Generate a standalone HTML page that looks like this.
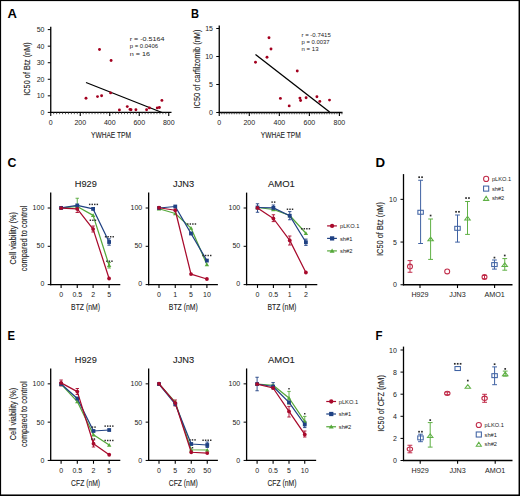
<!DOCTYPE html>
<html><head><meta charset="utf-8"><style>
html,body{margin:0;padding:0;background:#fff;width:520px;height:496px;overflow:hidden}
svg{display:block}
body{font-family:"Liberation Sans", sans-serif}
</style></head><body>
<svg width="520" height="496" viewBox="0 0 520 496" font-family="'Liberation Sans', sans-serif">
<rect x="0" y="0" width="520" height="496" fill="#fff"/>
<text x="7.50" y="17.90" font-size="12.5" fill="#000" text-anchor="start" font-weight="bold" textLength="9.4" lengthAdjust="spacingAndGlyphs">A</text>
<text x="191.00" y="17.90" font-size="12.5" fill="#000" text-anchor="start" font-weight="bold" textLength="8.0" lengthAdjust="spacingAndGlyphs">B</text>
<text x="7.50" y="167.20" font-size="12.5" fill="#000" text-anchor="start" font-weight="bold" textLength="8.9" lengthAdjust="spacingAndGlyphs">C</text>
<text x="375.40" y="167.10" font-size="12.5" fill="#000" text-anchor="start" font-weight="bold" textLength="9.6" lengthAdjust="spacingAndGlyphs">D</text>
<text x="7.60" y="339.60" font-size="12.5" fill="#000" text-anchor="start" font-weight="bold" textLength="7.5" lengthAdjust="spacingAndGlyphs">E</text>
<text x="375.40" y="339.60" font-size="12.5" fill="#000" text-anchor="start" font-weight="bold" textLength="7.0" lengthAdjust="spacingAndGlyphs">F</text>
<line x1="50.75" y1="26.80" x2="50.75" y2="113.00" stroke="#000" stroke-width="1.3"/>
<line x1="50.15" y1="112.40" x2="171.50" y2="112.40" stroke="#000" stroke-width="1.3"/>
<line x1="47.75" y1="112.40" x2="50.75" y2="112.40" stroke="#000" stroke-width="1"/>
<text x="44.50" y="114.91" font-size="7" fill="#222" text-anchor="end">0</text>
<line x1="47.75" y1="95.84" x2="50.75" y2="95.84" stroke="#000" stroke-width="1"/>
<text x="44.50" y="98.35" font-size="7" fill="#222" text-anchor="end">10</text>
<line x1="47.75" y1="79.28" x2="50.75" y2="79.28" stroke="#000" stroke-width="1"/>
<text x="44.50" y="81.79" font-size="7" fill="#222" text-anchor="end">20</text>
<line x1="47.75" y1="62.72" x2="50.75" y2="62.72" stroke="#000" stroke-width="1"/>
<text x="44.50" y="65.23" font-size="7" fill="#222" text-anchor="end">30</text>
<line x1="47.75" y1="46.16" x2="50.75" y2="46.16" stroke="#000" stroke-width="1"/>
<text x="44.50" y="48.67" font-size="7" fill="#222" text-anchor="end">40</text>
<line x1="47.75" y1="29.60" x2="50.75" y2="29.60" stroke="#000" stroke-width="1"/>
<text x="44.50" y="32.11" font-size="7" fill="#222" text-anchor="end">50</text>
<line x1="50.75" y1="112.40" x2="50.75" y2="116.00" stroke="#000" stroke-width="1.1"/>
<line x1="53.70" y1="112.40" x2="53.70" y2="114.20" stroke="#333" stroke-width="0.8"/>
<line x1="56.65" y1="112.40" x2="56.65" y2="114.20" stroke="#333" stroke-width="0.8"/>
<line x1="59.60" y1="112.40" x2="59.60" y2="114.20" stroke="#333" stroke-width="0.8"/>
<line x1="62.55" y1="112.40" x2="62.55" y2="114.20" stroke="#333" stroke-width="0.8"/>
<line x1="65.50" y1="112.40" x2="65.50" y2="114.20" stroke="#333" stroke-width="0.8"/>
<line x1="68.45" y1="112.40" x2="68.45" y2="114.20" stroke="#333" stroke-width="0.8"/>
<line x1="71.40" y1="112.40" x2="71.40" y2="114.20" stroke="#333" stroke-width="0.8"/>
<line x1="74.35" y1="112.40" x2="74.35" y2="114.20" stroke="#333" stroke-width="0.8"/>
<line x1="77.30" y1="112.40" x2="77.30" y2="114.20" stroke="#333" stroke-width="0.8"/>
<line x1="80.25" y1="112.40" x2="80.25" y2="116.00" stroke="#000" stroke-width="1.1"/>
<line x1="83.20" y1="112.40" x2="83.20" y2="114.20" stroke="#333" stroke-width="0.8"/>
<line x1="86.15" y1="112.40" x2="86.15" y2="114.20" stroke="#333" stroke-width="0.8"/>
<line x1="89.10" y1="112.40" x2="89.10" y2="114.20" stroke="#333" stroke-width="0.8"/>
<line x1="92.05" y1="112.40" x2="92.05" y2="114.20" stroke="#333" stroke-width="0.8"/>
<line x1="95.00" y1="112.40" x2="95.00" y2="114.20" stroke="#333" stroke-width="0.8"/>
<line x1="97.95" y1="112.40" x2="97.95" y2="114.20" stroke="#333" stroke-width="0.8"/>
<line x1="100.90" y1="112.40" x2="100.90" y2="114.20" stroke="#333" stroke-width="0.8"/>
<line x1="103.85" y1="112.40" x2="103.85" y2="114.20" stroke="#333" stroke-width="0.8"/>
<line x1="106.80" y1="112.40" x2="106.80" y2="114.20" stroke="#333" stroke-width="0.8"/>
<line x1="109.75" y1="112.40" x2="109.75" y2="116.00" stroke="#000" stroke-width="1.1"/>
<line x1="112.70" y1="112.40" x2="112.70" y2="114.20" stroke="#333" stroke-width="0.8"/>
<line x1="115.65" y1="112.40" x2="115.65" y2="114.20" stroke="#333" stroke-width="0.8"/>
<line x1="118.60" y1="112.40" x2="118.60" y2="114.20" stroke="#333" stroke-width="0.8"/>
<line x1="121.55" y1="112.40" x2="121.55" y2="114.20" stroke="#333" stroke-width="0.8"/>
<line x1="124.50" y1="112.40" x2="124.50" y2="114.20" stroke="#333" stroke-width="0.8"/>
<line x1="127.45" y1="112.40" x2="127.45" y2="114.20" stroke="#333" stroke-width="0.8"/>
<line x1="130.40" y1="112.40" x2="130.40" y2="114.20" stroke="#333" stroke-width="0.8"/>
<line x1="133.35" y1="112.40" x2="133.35" y2="114.20" stroke="#333" stroke-width="0.8"/>
<line x1="136.30" y1="112.40" x2="136.30" y2="114.20" stroke="#333" stroke-width="0.8"/>
<line x1="139.25" y1="112.40" x2="139.25" y2="116.00" stroke="#000" stroke-width="1.1"/>
<line x1="142.20" y1="112.40" x2="142.20" y2="114.20" stroke="#333" stroke-width="0.8"/>
<line x1="145.15" y1="112.40" x2="145.15" y2="114.20" stroke="#333" stroke-width="0.8"/>
<line x1="148.10" y1="112.40" x2="148.10" y2="114.20" stroke="#333" stroke-width="0.8"/>
<line x1="151.05" y1="112.40" x2="151.05" y2="114.20" stroke="#333" stroke-width="0.8"/>
<line x1="154.00" y1="112.40" x2="154.00" y2="114.20" stroke="#333" stroke-width="0.8"/>
<line x1="156.95" y1="112.40" x2="156.95" y2="114.20" stroke="#333" stroke-width="0.8"/>
<line x1="159.90" y1="112.40" x2="159.90" y2="114.20" stroke="#333" stroke-width="0.8"/>
<line x1="162.85" y1="112.40" x2="162.85" y2="114.20" stroke="#333" stroke-width="0.8"/>
<line x1="165.80" y1="112.40" x2="165.80" y2="114.20" stroke="#333" stroke-width="0.8"/>
<line x1="168.75" y1="112.40" x2="168.75" y2="116.00" stroke="#000" stroke-width="1.1"/>
<text x="50.75" y="124.91" font-size="7" fill="#222" text-anchor="middle">0</text>
<text x="80.25" y="124.91" font-size="7" fill="#222" text-anchor="middle">200</text>
<text x="109.75" y="124.91" font-size="7" fill="#222" text-anchor="middle">400</text>
<text x="139.25" y="124.91" font-size="7" fill="#222" text-anchor="middle">600</text>
<text x="168.75" y="124.91" font-size="7" fill="#222" text-anchor="middle">800</text>
<text x="111.00" y="137.60" font-size="9.4" fill="#222" text-anchor="middle" stroke="#222" stroke-width="0.1" textLength="40" lengthAdjust="spacingAndGlyphs">YWHAE TPM</text>
<text transform="translate(30.40,69.00) rotate(-90)" font-size="9.6" fill="#222" text-anchor="middle" stroke="#222" stroke-width="0.1" textLength="53.5" lengthAdjust="spacingAndGlyphs">IC50 of Btz (nM)</text>
<line x1="86.00" y1="82.50" x2="162.00" y2="112.50" stroke="#000" stroke-width="1.3"/>
<circle cx="86" cy="98.25" r="1.45" fill="#a3001f"/>
<circle cx="97.5" cy="96.6" r="1.45" fill="#a3001f"/>
<circle cx="101.6" cy="95.75" r="1.45" fill="#a3001f"/>
<circle cx="110.6" cy="92.9" r="1.45" fill="#a3001f"/>
<circle cx="99.5" cy="49.5" r="1.45" fill="#a3001f"/>
<circle cx="111.1" cy="60.5" r="1.45" fill="#a3001f"/>
<circle cx="119.4" cy="110" r="1.45" fill="#a3001f"/>
<circle cx="127.25" cy="106.6" r="1.45" fill="#a3001f"/>
<circle cx="130" cy="109.4" r="1.45" fill="#a3001f"/>
<circle cx="131" cy="109.75" r="1.45" fill="#a3001f"/>
<circle cx="135.9" cy="109.75" r="1.45" fill="#a3001f"/>
<circle cx="146.6" cy="109.75" r="1.45" fill="#a3001f"/>
<circle cx="149.4" cy="107.9" r="1.45" fill="#a3001f"/>
<circle cx="157.25" cy="107.9" r="1.45" fill="#a3001f"/>
<circle cx="159.4" cy="107.5" r="1.45" fill="#a3001f"/>
<circle cx="161.9" cy="100.4" r="1.45" fill="#a3001f"/>
<text x="129.75" y="40.60" font-size="6.2" fill="#222" text-anchor="start" textLength="34.6" lengthAdjust="spacingAndGlyphs">r = -0.5164</text>
<text x="129.75" y="48.00" font-size="5.2" fill="#222" text-anchor="start" textLength="28.3" lengthAdjust="spacingAndGlyphs">p = 0.0406</text>
<text x="129.75" y="55.60" font-size="6.2" fill="#222" text-anchor="start" textLength="20.3" lengthAdjust="spacingAndGlyphs">n = 16</text>
<line x1="219.25" y1="25.50" x2="219.25" y2="113.10" stroke="#000" stroke-width="1.3"/>
<line x1="218.65" y1="112.50" x2="342.50" y2="112.50" stroke="#000" stroke-width="1.3"/>
<line x1="216.25" y1="112.50" x2="219.25" y2="112.50" stroke="#000" stroke-width="1"/>
<text x="213.00" y="115.01" font-size="7" fill="#222" text-anchor="end">0</text>
<line x1="216.25" y1="84.50" x2="219.25" y2="84.50" stroke="#000" stroke-width="1"/>
<text x="213.00" y="87.01" font-size="7" fill="#222" text-anchor="end">5</text>
<line x1="216.25" y1="56.50" x2="219.25" y2="56.50" stroke="#000" stroke-width="1"/>
<text x="213.00" y="59.01" font-size="7" fill="#222" text-anchor="end">10</text>
<line x1="216.25" y1="28.50" x2="219.25" y2="28.50" stroke="#000" stroke-width="1"/>
<text x="213.00" y="31.01" font-size="7" fill="#222" text-anchor="end">15</text>
<line x1="219.25" y1="112.50" x2="219.25" y2="116.10" stroke="#000" stroke-width="1.1"/>
<line x1="221.75" y1="112.50" x2="221.75" y2="114.30" stroke="#333" stroke-width="0.8"/>
<line x1="224.26" y1="112.50" x2="224.26" y2="114.30" stroke="#333" stroke-width="0.8"/>
<line x1="226.76" y1="112.50" x2="226.76" y2="114.30" stroke="#333" stroke-width="0.8"/>
<line x1="229.26" y1="112.50" x2="229.26" y2="114.30" stroke="#333" stroke-width="0.8"/>
<line x1="231.77" y1="112.50" x2="231.77" y2="114.30" stroke="#333" stroke-width="0.8"/>
<line x1="234.27" y1="112.50" x2="234.27" y2="114.30" stroke="#333" stroke-width="0.8"/>
<line x1="236.77" y1="112.50" x2="236.77" y2="114.30" stroke="#333" stroke-width="0.8"/>
<line x1="239.28" y1="112.50" x2="239.28" y2="114.30" stroke="#333" stroke-width="0.8"/>
<line x1="241.78" y1="112.50" x2="241.78" y2="114.30" stroke="#333" stroke-width="0.8"/>
<line x1="244.28" y1="112.50" x2="244.28" y2="114.30" stroke="#333" stroke-width="0.8"/>
<line x1="246.79" y1="112.50" x2="246.79" y2="114.30" stroke="#333" stroke-width="0.8"/>
<line x1="249.29" y1="112.50" x2="249.29" y2="116.10" stroke="#000" stroke-width="1.1"/>
<line x1="251.79" y1="112.50" x2="251.79" y2="114.30" stroke="#333" stroke-width="0.8"/>
<line x1="254.30" y1="112.50" x2="254.30" y2="114.30" stroke="#333" stroke-width="0.8"/>
<line x1="256.80" y1="112.50" x2="256.80" y2="114.30" stroke="#333" stroke-width="0.8"/>
<line x1="259.30" y1="112.50" x2="259.30" y2="114.30" stroke="#333" stroke-width="0.8"/>
<line x1="261.81" y1="112.50" x2="261.81" y2="114.30" stroke="#333" stroke-width="0.8"/>
<line x1="264.31" y1="112.50" x2="264.31" y2="114.30" stroke="#333" stroke-width="0.8"/>
<line x1="266.81" y1="112.50" x2="266.81" y2="114.30" stroke="#333" stroke-width="0.8"/>
<line x1="269.32" y1="112.50" x2="269.32" y2="114.30" stroke="#333" stroke-width="0.8"/>
<line x1="271.82" y1="112.50" x2="271.82" y2="114.30" stroke="#333" stroke-width="0.8"/>
<line x1="274.32" y1="112.50" x2="274.32" y2="114.30" stroke="#333" stroke-width="0.8"/>
<line x1="276.83" y1="112.50" x2="276.83" y2="114.30" stroke="#333" stroke-width="0.8"/>
<line x1="279.33" y1="112.50" x2="279.33" y2="116.10" stroke="#000" stroke-width="1.1"/>
<line x1="281.83" y1="112.50" x2="281.83" y2="114.30" stroke="#333" stroke-width="0.8"/>
<line x1="284.34" y1="112.50" x2="284.34" y2="114.30" stroke="#333" stroke-width="0.8"/>
<line x1="286.84" y1="112.50" x2="286.84" y2="114.30" stroke="#333" stroke-width="0.8"/>
<line x1="289.34" y1="112.50" x2="289.34" y2="114.30" stroke="#333" stroke-width="0.8"/>
<line x1="291.85" y1="112.50" x2="291.85" y2="114.30" stroke="#333" stroke-width="0.8"/>
<line x1="294.35" y1="112.50" x2="294.35" y2="114.30" stroke="#333" stroke-width="0.8"/>
<line x1="296.85" y1="112.50" x2="296.85" y2="114.30" stroke="#333" stroke-width="0.8"/>
<line x1="299.36" y1="112.50" x2="299.36" y2="114.30" stroke="#333" stroke-width="0.8"/>
<line x1="301.86" y1="112.50" x2="301.86" y2="114.30" stroke="#333" stroke-width="0.8"/>
<line x1="304.36" y1="112.50" x2="304.36" y2="114.30" stroke="#333" stroke-width="0.8"/>
<line x1="306.87" y1="112.50" x2="306.87" y2="114.30" stroke="#333" stroke-width="0.8"/>
<line x1="309.37" y1="112.50" x2="309.37" y2="116.10" stroke="#000" stroke-width="1.1"/>
<line x1="311.87" y1="112.50" x2="311.87" y2="114.30" stroke="#333" stroke-width="0.8"/>
<line x1="314.38" y1="112.50" x2="314.38" y2="114.30" stroke="#333" stroke-width="0.8"/>
<line x1="316.88" y1="112.50" x2="316.88" y2="114.30" stroke="#333" stroke-width="0.8"/>
<line x1="319.38" y1="112.50" x2="319.38" y2="114.30" stroke="#333" stroke-width="0.8"/>
<line x1="321.89" y1="112.50" x2="321.89" y2="114.30" stroke="#333" stroke-width="0.8"/>
<line x1="324.39" y1="112.50" x2="324.39" y2="114.30" stroke="#333" stroke-width="0.8"/>
<line x1="326.89" y1="112.50" x2="326.89" y2="114.30" stroke="#333" stroke-width="0.8"/>
<line x1="329.40" y1="112.50" x2="329.40" y2="114.30" stroke="#333" stroke-width="0.8"/>
<line x1="331.90" y1="112.50" x2="331.90" y2="114.30" stroke="#333" stroke-width="0.8"/>
<line x1="334.40" y1="112.50" x2="334.40" y2="114.30" stroke="#333" stroke-width="0.8"/>
<line x1="336.91" y1="112.50" x2="336.91" y2="114.30" stroke="#333" stroke-width="0.8"/>
<line x1="339.41" y1="112.50" x2="339.41" y2="116.10" stroke="#000" stroke-width="1.1"/>
<line x1="341.91" y1="112.50" x2="341.91" y2="114.30" stroke="#333" stroke-width="0.8"/>
<text x="219.25" y="124.91" font-size="7" fill="#222" text-anchor="middle">0</text>
<text x="249.29" y="124.91" font-size="7" fill="#222" text-anchor="middle">200</text>
<text x="279.33" y="124.91" font-size="7" fill="#222" text-anchor="middle">400</text>
<text x="309.37" y="124.91" font-size="7" fill="#222" text-anchor="middle">600</text>
<text x="339.41" y="124.91" font-size="7" fill="#222" text-anchor="middle">800</text>
<text x="280.75" y="137.60" font-size="9.4" fill="#222" text-anchor="middle" stroke="#222" stroke-width="0.1" textLength="40" lengthAdjust="spacingAndGlyphs">YWHAE TPM</text>
<text transform="translate(199.80,69.00) rotate(-90)" font-size="9.6" fill="#222" text-anchor="middle" stroke="#222" stroke-width="0.1" textLength="79" lengthAdjust="spacingAndGlyphs">IC50 of carfilzomib (nM)</text>
<line x1="255.50" y1="54.50" x2="329.60" y2="112.00" stroke="#000" stroke-width="1.3"/>
<circle cx="255.5" cy="62.25" r="1.45" fill="#a3001f"/>
<circle cx="267" cy="57.25" r="1.45" fill="#a3001f"/>
<circle cx="269" cy="37.75" r="1.45" fill="#a3001f"/>
<circle cx="271" cy="49" r="1.45" fill="#a3001f"/>
<circle cx="297.25" cy="71" r="1.45" fill="#a3001f"/>
<circle cx="280.4" cy="98.4" r="1.45" fill="#a3001f"/>
<circle cx="289.2" cy="105.9" r="1.45" fill="#a3001f"/>
<circle cx="299.9" cy="98.1" r="1.45" fill="#a3001f"/>
<circle cx="300.6" cy="100.5" r="1.45" fill="#a3001f"/>
<circle cx="306.1" cy="97.8" r="1.45" fill="#a3001f"/>
<circle cx="316.9" cy="96.7" r="1.45" fill="#a3001f"/>
<circle cx="319.8" cy="101.4" r="1.45" fill="#a3001f"/>
<circle cx="329.5" cy="100.1" r="1.45" fill="#a3001f"/>
<text x="301.50" y="37.30" font-size="5.4" fill="#222" text-anchor="start" textLength="29.3" lengthAdjust="spacingAndGlyphs">r = -0.7415</text>
<text x="301.50" y="44.00" font-size="5.4" fill="#222" text-anchor="start" textLength="28" lengthAdjust="spacingAndGlyphs">p = 0.0037</text>
<text x="301.50" y="50.80" font-size="5.4" fill="#222" text-anchor="start" textLength="17" lengthAdjust="spacingAndGlyphs">n = 13</text>
<text x="85.80" y="186.80" font-size="9.5" fill="#222" text-anchor="middle" stroke="#222" stroke-width="0.1" textLength="22" lengthAdjust="spacingAndGlyphs">H929</text>
<line x1="50.70" y1="192.60" x2="50.70" y2="285.20" stroke="#000" stroke-width="1.3"/>
<line x1="50.10" y1="284.60" x2="120.30" y2="284.60" stroke="#000" stroke-width="1.3"/>
<line x1="47.70" y1="284.60" x2="50.70" y2="284.60" stroke="#000" stroke-width="1"/>
<text x="44.30" y="286.41" font-size="7" fill="#222" text-anchor="end">0</text>
<line x1="47.70" y1="246.30" x2="50.70" y2="246.30" stroke="#000" stroke-width="1"/>
<text x="44.30" y="248.11" font-size="7" fill="#222" text-anchor="end">50</text>
<line x1="47.70" y1="208.00" x2="50.70" y2="208.00" stroke="#000" stroke-width="1"/>
<text x="44.30" y="209.81" font-size="7" fill="#222" text-anchor="end">100</text>
<line x1="61.10" y1="284.60" x2="61.10" y2="287.90" stroke="#000" stroke-width="1.1"/>
<text x="61.10" y="296.91" font-size="7" fill="#222" text-anchor="middle">0</text>
<line x1="77.25" y1="284.60" x2="77.25" y2="287.90" stroke="#000" stroke-width="1.1"/>
<text x="77.25" y="296.91" font-size="7" fill="#222" text-anchor="middle">0.5</text>
<line x1="93.10" y1="284.60" x2="93.10" y2="287.90" stroke="#000" stroke-width="1.1"/>
<text x="93.10" y="296.91" font-size="7" fill="#222" text-anchor="middle">2</text>
<line x1="109.10" y1="284.60" x2="109.10" y2="287.90" stroke="#000" stroke-width="1.1"/>
<text x="109.10" y="296.91" font-size="7" fill="#222" text-anchor="middle">5</text>
<text x="85.60" y="310.30" font-size="9.5" fill="#222" text-anchor="middle" stroke="#222" stroke-width="0.1" textLength="29" lengthAdjust="spacingAndGlyphs">BTZ (nM)</text>
<line x1="77.25" y1="198.25" x2="77.25" y2="209.00" stroke="#55a83a" stroke-width="0.9"/>
<line x1="75.55" y1="198.25" x2="78.95" y2="198.25" stroke="#55a83a" stroke-width="0.9"/>
<line x1="75.55" y1="209.00" x2="78.95" y2="209.00" stroke="#55a83a" stroke-width="0.9"/>
<line x1="77.25" y1="205.50" x2="77.25" y2="212.50" stroke="#a80a2c" stroke-width="0.9"/>
<line x1="75.55" y1="205.50" x2="78.95" y2="205.50" stroke="#a80a2c" stroke-width="0.9"/>
<line x1="75.55" y1="212.50" x2="78.95" y2="212.50" stroke="#a80a2c" stroke-width="0.9"/>
<line x1="93.10" y1="226.00" x2="93.10" y2="232.00" stroke="#a80a2c" stroke-width="0.9"/>
<line x1="91.40" y1="226.00" x2="94.80" y2="226.00" stroke="#a80a2c" stroke-width="0.9"/>
<line x1="91.40" y1="232.00" x2="94.80" y2="232.00" stroke="#a80a2c" stroke-width="0.9"/>
<line x1="109.10" y1="238.80" x2="109.10" y2="245.20" stroke="#1f4183" stroke-width="0.9"/>
<line x1="107.40" y1="238.80" x2="110.80" y2="238.80" stroke="#1f4183" stroke-width="0.9"/>
<line x1="107.40" y1="245.20" x2="110.80" y2="245.20" stroke="#1f4183" stroke-width="0.9"/>
<line x1="109.10" y1="262.50" x2="109.10" y2="268.00" stroke="#55a83a" stroke-width="0.9"/>
<line x1="107.40" y1="262.50" x2="110.80" y2="262.50" stroke="#55a83a" stroke-width="0.9"/>
<line x1="107.40" y1="268.00" x2="110.80" y2="268.00" stroke="#55a83a" stroke-width="0.9"/>
<polyline points="61.10,207.90 77.25,206.50 93.10,215.40 109.10,265.40" fill="none" stroke="#55a83a" stroke-width="1.25" stroke-linejoin="round"/>
<polygon points="58.90,209.55 63.30,209.55 61.10,205.81" fill="#55a83a"/>
<polygon points="75.05,208.15 79.45,208.15 77.25,204.41" fill="#55a83a"/>
<polygon points="90.90,217.05 95.30,217.05 93.10,213.31" fill="#55a83a"/>
<polygon points="106.90,267.05 111.30,267.05 109.10,263.31" fill="#55a83a"/>
<polyline points="61.10,207.90 77.25,205.40 93.10,208.90 109.10,242.00" fill="none" stroke="#1f4183" stroke-width="1.25" stroke-linejoin="round"/>
<rect x="59.20" y="206.00" width="3.80" height="3.80" fill="#1f4183"/>
<rect x="75.35" y="203.50" width="3.80" height="3.80" fill="#1f4183"/>
<rect x="91.20" y="207.00" width="3.80" height="3.80" fill="#1f4183"/>
<rect x="107.20" y="240.10" width="3.80" height="3.80" fill="#1f4183"/>
<polyline points="61.10,208.10 77.25,208.90 93.10,229.10 109.10,278.50" fill="none" stroke="#a80a2c" stroke-width="1.25" stroke-linejoin="round"/>
<circle cx="61.10" cy="208.10" r="1.90" fill="#a80a2c"/>
<circle cx="77.25" cy="208.90" r="1.90" fill="#a80a2c"/>
<circle cx="93.10" cy="229.10" r="1.90" fill="#a80a2c"/>
<circle cx="109.10" cy="278.50" r="1.90" fill="#a80a2c"/>
<rect x="88.95" y="203.68" width="1.45" height="1.45" fill="#2a2a2a"/>
<rect x="91.50" y="203.68" width="1.45" height="1.45" fill="#2a2a2a"/>
<rect x="94.05" y="203.68" width="1.45" height="1.45" fill="#2a2a2a"/>
<rect x="96.60" y="203.68" width="1.45" height="1.45" fill="#2a2a2a"/>
<rect x="89.63" y="219.53" width="1.45" height="1.45" fill="#2a2a2a"/>
<rect x="92.18" y="219.53" width="1.45" height="1.45" fill="#2a2a2a"/>
<rect x="94.73" y="219.53" width="1.45" height="1.45" fill="#2a2a2a"/>
<rect x="104.85" y="236.03" width="1.45" height="1.45" fill="#2a2a2a"/>
<rect x="107.40" y="236.03" width="1.45" height="1.45" fill="#2a2a2a"/>
<rect x="109.95" y="236.03" width="1.45" height="1.45" fill="#2a2a2a"/>
<rect x="112.50" y="236.03" width="1.45" height="1.45" fill="#2a2a2a"/>
<rect x="106.13" y="260.47" width="1.45" height="1.45" fill="#2a2a2a"/>
<rect x="108.68" y="260.47" width="1.45" height="1.45" fill="#2a2a2a"/>
<rect x="111.23" y="260.47" width="1.45" height="1.45" fill="#2a2a2a"/>
<text x="183.55" y="186.80" font-size="9.5" fill="#222" text-anchor="middle" stroke="#222" stroke-width="0.1" textLength="21.1" lengthAdjust="spacingAndGlyphs">JJN3</text>
<line x1="148.65" y1="192.60" x2="148.65" y2="285.20" stroke="#000" stroke-width="1.3"/>
<line x1="148.05" y1="284.60" x2="217.90" y2="284.60" stroke="#000" stroke-width="1.3"/>
<line x1="145.65" y1="284.60" x2="148.65" y2="284.60" stroke="#000" stroke-width="1"/>
<text x="142.25" y="286.41" font-size="7" fill="#222" text-anchor="end">0</text>
<line x1="145.65" y1="246.30" x2="148.65" y2="246.30" stroke="#000" stroke-width="1"/>
<text x="142.25" y="248.11" font-size="7" fill="#222" text-anchor="end">50</text>
<line x1="145.65" y1="208.00" x2="148.65" y2="208.00" stroke="#000" stroke-width="1"/>
<text x="142.25" y="209.81" font-size="7" fill="#222" text-anchor="end">100</text>
<line x1="159.00" y1="284.60" x2="159.00" y2="287.90" stroke="#000" stroke-width="1.1"/>
<text x="159.00" y="296.91" font-size="7" fill="#222" text-anchor="middle">0</text>
<line x1="175.25" y1="284.60" x2="175.25" y2="287.90" stroke="#000" stroke-width="1.1"/>
<text x="175.25" y="296.91" font-size="7" fill="#222" text-anchor="middle">1</text>
<line x1="191.00" y1="284.60" x2="191.00" y2="287.90" stroke="#000" stroke-width="1.1"/>
<text x="191.00" y="296.91" font-size="7" fill="#222" text-anchor="middle">5</text>
<line x1="206.90" y1="284.60" x2="206.90" y2="287.90" stroke="#000" stroke-width="1.1"/>
<text x="206.90" y="296.91" font-size="7" fill="#222" text-anchor="middle">10</text>
<text x="183.30" y="310.30" font-size="9.5" fill="#222" text-anchor="middle" stroke="#222" stroke-width="0.1" textLength="29" lengthAdjust="spacingAndGlyphs">BTZ (nM)</text>
<polyline points="159.00,208.75 175.25,213.50 191.00,228.10 206.90,264.50" fill="none" stroke="#55a83a" stroke-width="1.25" stroke-linejoin="round"/>
<polygon points="156.80,210.40 161.20,210.40 159.00,206.66" fill="#55a83a"/>
<polygon points="173.05,215.15 177.45,215.15 175.25,211.41" fill="#55a83a"/>
<polygon points="188.80,229.75 193.20,229.75 191.00,226.01" fill="#55a83a"/>
<polygon points="204.70,266.15 209.10,266.15 206.90,262.41" fill="#55a83a"/>
<polyline points="159.00,208.00 175.25,206.50 191.00,233.50 206.90,260.60" fill="none" stroke="#1f4183" stroke-width="1.25" stroke-linejoin="round"/>
<rect x="157.10" y="206.10" width="3.80" height="3.80" fill="#1f4183"/>
<rect x="173.35" y="204.60" width="3.80" height="3.80" fill="#1f4183"/>
<rect x="189.10" y="231.60" width="3.80" height="3.80" fill="#1f4183"/>
<rect x="205.00" y="258.70" width="3.80" height="3.80" fill="#1f4183"/>
<polyline points="159.00,207.75 175.25,210.25 191.00,274.10 206.90,279.00" fill="none" stroke="#a80a2c" stroke-width="1.25" stroke-linejoin="round"/>
<circle cx="159.00" cy="207.75" r="1.90" fill="#a80a2c"/>
<circle cx="175.25" cy="210.25" r="1.90" fill="#a80a2c"/>
<circle cx="191.00" cy="274.10" r="1.90" fill="#a80a2c"/>
<circle cx="206.90" cy="279.00" r="1.90" fill="#a80a2c"/>
<rect x="187.05" y="223.28" width="1.45" height="1.45" fill="#2a2a2a"/>
<rect x="189.60" y="223.28" width="1.45" height="1.45" fill="#2a2a2a"/>
<rect x="192.15" y="223.28" width="1.45" height="1.45" fill="#2a2a2a"/>
<rect x="194.70" y="223.28" width="1.45" height="1.45" fill="#2a2a2a"/>
<rect x="202.35" y="254.78" width="1.45" height="1.45" fill="#2a2a2a"/>
<rect x="204.90" y="254.78" width="1.45" height="1.45" fill="#2a2a2a"/>
<rect x="207.45" y="254.78" width="1.45" height="1.45" fill="#2a2a2a"/>
<rect x="210.00" y="254.78" width="1.45" height="1.45" fill="#2a2a2a"/>
<text x="281.45" y="186.80" font-size="9.5" fill="#222" text-anchor="middle" stroke="#222" stroke-width="0.1" textLength="26.9" lengthAdjust="spacingAndGlyphs">AMO1</text>
<line x1="246.60" y1="192.60" x2="246.60" y2="285.20" stroke="#000" stroke-width="1.3"/>
<line x1="246.00" y1="284.60" x2="317.30" y2="284.60" stroke="#000" stroke-width="1.3"/>
<line x1="243.60" y1="284.60" x2="246.60" y2="284.60" stroke="#000" stroke-width="1"/>
<text x="240.20" y="286.41" font-size="7" fill="#222" text-anchor="end">0</text>
<line x1="243.60" y1="246.30" x2="246.60" y2="246.30" stroke="#000" stroke-width="1"/>
<text x="240.20" y="248.11" font-size="7" fill="#222" text-anchor="end">50</text>
<line x1="243.60" y1="208.00" x2="246.60" y2="208.00" stroke="#000" stroke-width="1"/>
<text x="240.20" y="209.81" font-size="7" fill="#222" text-anchor="end">100</text>
<line x1="257.50" y1="284.60" x2="257.50" y2="287.90" stroke="#000" stroke-width="1.1"/>
<text x="257.50" y="296.91" font-size="7" fill="#222" text-anchor="middle">0</text>
<line x1="273.40" y1="284.60" x2="273.40" y2="287.90" stroke="#000" stroke-width="1.1"/>
<text x="273.40" y="296.91" font-size="7" fill="#222" text-anchor="middle">0.5</text>
<line x1="289.75" y1="284.60" x2="289.75" y2="287.90" stroke="#000" stroke-width="1.1"/>
<text x="289.75" y="296.91" font-size="7" fill="#222" text-anchor="middle">1</text>
<line x1="305.90" y1="284.60" x2="305.90" y2="287.90" stroke="#000" stroke-width="1.1"/>
<text x="305.90" y="296.91" font-size="7" fill="#222" text-anchor="middle">2</text>
<text x="281.90" y="310.30" font-size="9.5" fill="#222" text-anchor="middle" stroke="#222" stroke-width="0.1" textLength="29" lengthAdjust="spacingAndGlyphs">BTZ (nM)</text>
<line x1="257.50" y1="203.75" x2="257.50" y2="212.25" stroke="#1f4183" stroke-width="0.9"/>
<line x1="255.80" y1="203.75" x2="259.20" y2="203.75" stroke="#1f4183" stroke-width="0.9"/>
<line x1="255.80" y1="212.25" x2="259.20" y2="212.25" stroke="#1f4183" stroke-width="0.9"/>
<line x1="273.40" y1="205.00" x2="273.40" y2="210.40" stroke="#1f4183" stroke-width="0.9"/>
<line x1="271.70" y1="205.00" x2="275.10" y2="205.00" stroke="#1f4183" stroke-width="0.9"/>
<line x1="271.70" y1="210.40" x2="275.10" y2="210.40" stroke="#1f4183" stroke-width="0.9"/>
<line x1="273.40" y1="214.75" x2="273.40" y2="221.60" stroke="#a80a2c" stroke-width="0.9"/>
<line x1="271.70" y1="214.75" x2="275.10" y2="214.75" stroke="#a80a2c" stroke-width="0.9"/>
<line x1="271.70" y1="221.60" x2="275.10" y2="221.60" stroke="#a80a2c" stroke-width="0.9"/>
<line x1="289.75" y1="211.60" x2="289.75" y2="219.75" stroke="#1f4183" stroke-width="0.9"/>
<line x1="288.05" y1="211.60" x2="291.45" y2="211.60" stroke="#1f4183" stroke-width="0.9"/>
<line x1="288.05" y1="219.75" x2="291.45" y2="219.75" stroke="#1f4183" stroke-width="0.9"/>
<line x1="289.75" y1="236.00" x2="289.75" y2="245.00" stroke="#a80a2c" stroke-width="0.9"/>
<line x1="288.05" y1="236.00" x2="291.45" y2="236.00" stroke="#a80a2c" stroke-width="0.9"/>
<line x1="288.05" y1="245.00" x2="291.45" y2="245.00" stroke="#a80a2c" stroke-width="0.9"/>
<line x1="305.90" y1="239.10" x2="305.90" y2="245.40" stroke="#1f4183" stroke-width="0.9"/>
<line x1="304.20" y1="239.10" x2="307.60" y2="239.10" stroke="#1f4183" stroke-width="0.9"/>
<line x1="304.20" y1="245.40" x2="307.60" y2="245.40" stroke="#1f4183" stroke-width="0.9"/>
<polyline points="257.50,207.50 273.40,209.50 289.75,215.50 305.90,233.25" fill="none" stroke="#55a83a" stroke-width="1.25" stroke-linejoin="round"/>
<polygon points="255.30,209.15 259.70,209.15 257.50,205.41" fill="#55a83a"/>
<polygon points="271.20,211.15 275.60,211.15 273.40,207.41" fill="#55a83a"/>
<polygon points="287.55,217.15 291.95,217.15 289.75,213.41" fill="#55a83a"/>
<polygon points="303.70,234.90 308.10,234.90 305.90,231.16" fill="#55a83a"/>
<polyline points="257.50,207.50 273.40,207.90 289.75,215.75 305.90,242.25" fill="none" stroke="#1f4183" stroke-width="1.25" stroke-linejoin="round"/>
<rect x="255.60" y="205.60" width="3.80" height="3.80" fill="#1f4183"/>
<rect x="271.50" y="206.00" width="3.80" height="3.80" fill="#1f4183"/>
<rect x="287.85" y="213.85" width="3.80" height="3.80" fill="#1f4183"/>
<rect x="304.00" y="240.35" width="3.80" height="3.80" fill="#1f4183"/>
<polyline points="257.50,207.90 273.40,218.50 289.75,240.40 305.90,272.50" fill="none" stroke="#a80a2c" stroke-width="1.25" stroke-linejoin="round"/>
<circle cx="257.50" cy="207.90" r="1.90" fill="#a80a2c"/>
<circle cx="273.40" cy="218.50" r="1.90" fill="#a80a2c"/>
<circle cx="289.75" cy="240.40" r="1.90" fill="#a80a2c"/>
<circle cx="305.90" cy="272.50" r="1.90" fill="#a80a2c"/>
<rect x="271.40" y="201.38" width="1.45" height="1.45" fill="#2a2a2a"/>
<rect x="273.95" y="201.38" width="1.45" height="1.45" fill="#2a2a2a"/>
<rect x="286.72" y="208.53" width="1.45" height="1.45" fill="#2a2a2a"/>
<rect x="289.27" y="208.53" width="1.45" height="1.45" fill="#2a2a2a"/>
<rect x="291.82" y="208.53" width="1.45" height="1.45" fill="#2a2a2a"/>
<rect x="301.05" y="228.03" width="1.45" height="1.45" fill="#2a2a2a"/>
<rect x="303.60" y="228.03" width="1.45" height="1.45" fill="#2a2a2a"/>
<rect x="306.15" y="228.03" width="1.45" height="1.45" fill="#2a2a2a"/>
<rect x="308.70" y="228.03" width="1.45" height="1.45" fill="#2a2a2a"/>
<line x1="327.10" y1="225.90" x2="336.90" y2="225.90" stroke="#a80a2c" stroke-width="1.2"/>
<circle cx="332.10" cy="225.90" r="2.13" fill="#a80a2c"/>
<text x="340.00" y="228.05" font-size="6.0" fill="#222" text-anchor="start" textLength="19.4" lengthAdjust="spacingAndGlyphs">pLKO.1</text>
<line x1="327.10" y1="238.40" x2="336.90" y2="238.40" stroke="#1f4183" stroke-width="1.2"/>
<rect x="329.97" y="236.27" width="4.26" height="4.26" fill="#1f4183"/>
<text x="340.00" y="240.55" font-size="6.0" fill="#222" text-anchor="start" textLength="12.3" lengthAdjust="spacingAndGlyphs">sh#1</text>
<line x1="327.10" y1="250.90" x2="336.90" y2="250.90" stroke="#55a83a" stroke-width="1.2"/>
<polygon points="329.64,252.75 334.56,252.75 332.10,248.56" fill="#55a83a"/>
<text x="340.00" y="253.05" font-size="6.0" fill="#222" text-anchor="start" textLength="12.5" lengthAdjust="spacingAndGlyphs">sh#2</text>
<text transform="translate(16.40,238.30) rotate(-90)" font-size="9.6" fill="#222" text-anchor="middle" stroke="#222" stroke-width="0.1" textLength="52.5" lengthAdjust="spacingAndGlyphs">Cell viability (%)</text>
<text transform="translate(26.90,238.50) rotate(-90)" font-size="9.6" fill="#222" text-anchor="middle" stroke="#222" stroke-width="0.1" textLength="65.5" lengthAdjust="spacingAndGlyphs">compared to control</text>
<text transform="translate(16.40,414.00) rotate(-90)" font-size="9.6" fill="#222" text-anchor="middle" stroke="#222" stroke-width="0.1" textLength="52.5" lengthAdjust="spacingAndGlyphs">Cell viability (%)</text>
<text transform="translate(26.90,414.20) rotate(-90)" font-size="9.6" fill="#222" text-anchor="middle" stroke="#222" stroke-width="0.1" textLength="65.5" lengthAdjust="spacingAndGlyphs">compared to control</text>
<text x="85.80" y="363.15" font-size="9.5" fill="#222" text-anchor="middle" stroke="#222" stroke-width="0.1" textLength="22" lengthAdjust="spacingAndGlyphs">H929</text>
<line x1="50.70" y1="368.45" x2="50.70" y2="461.05" stroke="#000" stroke-width="1.3"/>
<line x1="50.10" y1="460.45" x2="120.30" y2="460.45" stroke="#000" stroke-width="1.3"/>
<line x1="47.70" y1="460.45" x2="50.70" y2="460.45" stroke="#000" stroke-width="1"/>
<text x="44.30" y="462.86" font-size="7" fill="#222" text-anchor="end">0</text>
<line x1="47.70" y1="422.15" x2="50.70" y2="422.15" stroke="#000" stroke-width="1"/>
<text x="44.30" y="424.56" font-size="7" fill="#222" text-anchor="end">50</text>
<line x1="47.70" y1="383.85" x2="50.70" y2="383.85" stroke="#000" stroke-width="1"/>
<text x="44.30" y="386.26" font-size="7" fill="#222" text-anchor="end">100</text>
<line x1="61.10" y1="460.45" x2="61.10" y2="463.75" stroke="#000" stroke-width="1.1"/>
<text x="61.10" y="472.76" font-size="7" fill="#222" text-anchor="middle">0</text>
<line x1="77.30" y1="460.45" x2="77.30" y2="463.75" stroke="#000" stroke-width="1.1"/>
<text x="77.30" y="472.76" font-size="7" fill="#222" text-anchor="middle">0.5</text>
<line x1="93.50" y1="460.45" x2="93.50" y2="463.75" stroke="#000" stroke-width="1.1"/>
<text x="93.50" y="472.76" font-size="7" fill="#222" text-anchor="middle">2</text>
<line x1="109.20" y1="460.45" x2="109.20" y2="463.75" stroke="#000" stroke-width="1.1"/>
<text x="109.20" y="472.76" font-size="7" fill="#222" text-anchor="middle">5</text>
<text x="85.60" y="486.45" font-size="9.5" fill="#222" text-anchor="middle" stroke="#222" stroke-width="0.1" textLength="29" lengthAdjust="spacingAndGlyphs">CFZ (nM)</text>
<line x1="61.10" y1="380.00" x2="61.10" y2="386.00" stroke="#a80a2c" stroke-width="0.9"/>
<line x1="59.40" y1="380.00" x2="62.80" y2="380.00" stroke="#a80a2c" stroke-width="0.9"/>
<line x1="59.40" y1="386.00" x2="62.80" y2="386.00" stroke="#a80a2c" stroke-width="0.9"/>
<line x1="77.30" y1="388.50" x2="77.30" y2="394.50" stroke="#a80a2c" stroke-width="0.9"/>
<line x1="75.60" y1="388.50" x2="79.00" y2="388.50" stroke="#a80a2c" stroke-width="0.9"/>
<line x1="75.60" y1="394.50" x2="79.00" y2="394.50" stroke="#a80a2c" stroke-width="0.9"/>
<line x1="93.50" y1="440.00" x2="93.50" y2="447.00" stroke="#a80a2c" stroke-width="0.9"/>
<line x1="91.80" y1="440.00" x2="95.20" y2="440.00" stroke="#a80a2c" stroke-width="0.9"/>
<line x1="91.80" y1="447.00" x2="95.20" y2="447.00" stroke="#a80a2c" stroke-width="0.9"/>
<polyline points="61.10,384.00 77.30,401.60 93.50,434.75 109.20,445.00" fill="none" stroke="#55a83a" stroke-width="1.25" stroke-linejoin="round"/>
<polygon points="58.90,385.65 63.30,385.65 61.10,381.91" fill="#55a83a"/>
<polygon points="75.10,403.25 79.50,403.25 77.30,399.51" fill="#55a83a"/>
<polygon points="91.30,436.40 95.70,436.40 93.50,432.66" fill="#55a83a"/>
<polygon points="107.00,446.65 111.40,446.65 109.20,442.91" fill="#55a83a"/>
<polyline points="61.10,384.00 77.30,398.50 93.50,431.00 109.20,430.00" fill="none" stroke="#1f4183" stroke-width="1.25" stroke-linejoin="round"/>
<rect x="59.20" y="382.10" width="3.80" height="3.80" fill="#1f4183"/>
<rect x="75.40" y="396.60" width="3.80" height="3.80" fill="#1f4183"/>
<rect x="91.60" y="429.10" width="3.80" height="3.80" fill="#1f4183"/>
<rect x="107.30" y="428.10" width="3.80" height="3.80" fill="#1f4183"/>
<polyline points="61.10,382.90 77.30,391.60 93.50,443.75 109.20,454.75" fill="none" stroke="#a80a2c" stroke-width="1.25" stroke-linejoin="round"/>
<circle cx="61.10" cy="382.90" r="1.90" fill="#a80a2c"/>
<circle cx="77.30" cy="391.60" r="1.90" fill="#a80a2c"/>
<circle cx="93.50" cy="443.75" r="1.90" fill="#a80a2c"/>
<circle cx="109.20" cy="454.75" r="1.90" fill="#a80a2c"/>
<rect x="91.75" y="426.38" width="1.45" height="1.45" fill="#2a2a2a"/>
<rect x="94.30" y="426.38" width="1.45" height="1.45" fill="#2a2a2a"/>
<rect x="104.45" y="425.38" width="1.45" height="1.45" fill="#2a2a2a"/>
<rect x="107.00" y="425.38" width="1.45" height="1.45" fill="#2a2a2a"/>
<rect x="109.55" y="425.38" width="1.45" height="1.45" fill="#2a2a2a"/>
<rect x="112.10" y="425.38" width="1.45" height="1.45" fill="#2a2a2a"/>
<rect x="91.10" y="438.27" width="1.45" height="1.45" fill="#2a2a2a"/>
<rect x="93.65" y="438.27" width="1.45" height="1.45" fill="#2a2a2a"/>
<rect x="104.45" y="439.77" width="1.45" height="1.45" fill="#2a2a2a"/>
<rect x="107.00" y="439.77" width="1.45" height="1.45" fill="#2a2a2a"/>
<rect x="109.55" y="439.77" width="1.45" height="1.45" fill="#2a2a2a"/>
<rect x="112.10" y="439.77" width="1.45" height="1.45" fill="#2a2a2a"/>
<text x="183.55" y="363.15" font-size="9.5" fill="#222" text-anchor="middle" stroke="#222" stroke-width="0.1" textLength="21.1" lengthAdjust="spacingAndGlyphs">JJN3</text>
<line x1="148.65" y1="368.45" x2="148.65" y2="461.05" stroke="#000" stroke-width="1.3"/>
<line x1="148.05" y1="460.45" x2="217.90" y2="460.45" stroke="#000" stroke-width="1.3"/>
<line x1="145.65" y1="460.45" x2="148.65" y2="460.45" stroke="#000" stroke-width="1"/>
<text x="142.25" y="462.86" font-size="7" fill="#222" text-anchor="end">0</text>
<line x1="145.65" y1="422.15" x2="148.65" y2="422.15" stroke="#000" stroke-width="1"/>
<text x="142.25" y="424.56" font-size="7" fill="#222" text-anchor="end">50</text>
<line x1="145.65" y1="383.85" x2="148.65" y2="383.85" stroke="#000" stroke-width="1"/>
<text x="142.25" y="386.26" font-size="7" fill="#222" text-anchor="end">100</text>
<line x1="159.00" y1="460.45" x2="159.00" y2="463.75" stroke="#000" stroke-width="1.1"/>
<text x="159.00" y="472.76" font-size="7" fill="#222" text-anchor="middle">0</text>
<line x1="175.25" y1="460.45" x2="175.25" y2="463.75" stroke="#000" stroke-width="1.1"/>
<text x="175.25" y="472.76" font-size="7" fill="#222" text-anchor="middle">5</text>
<line x1="191.25" y1="460.45" x2="191.25" y2="463.75" stroke="#000" stroke-width="1.1"/>
<text x="191.25" y="472.76" font-size="7" fill="#222" text-anchor="middle">20</text>
<line x1="207.25" y1="460.45" x2="207.25" y2="463.75" stroke="#000" stroke-width="1.1"/>
<text x="207.25" y="472.76" font-size="7" fill="#222" text-anchor="middle">50</text>
<text x="183.30" y="486.45" font-size="9.5" fill="#222" text-anchor="middle" stroke="#222" stroke-width="0.1" textLength="29" lengthAdjust="spacingAndGlyphs">CFZ (nM)</text>
<line x1="175.25" y1="400.00" x2="175.25" y2="406.00" stroke="#a80a2c" stroke-width="0.9"/>
<line x1="173.55" y1="400.00" x2="176.95" y2="400.00" stroke="#a80a2c" stroke-width="0.9"/>
<line x1="173.55" y1="406.00" x2="176.95" y2="406.00" stroke="#a80a2c" stroke-width="0.9"/>
<line x1="207.25" y1="442.00" x2="207.25" y2="447.50" stroke="#1f4183" stroke-width="0.9"/>
<line x1="205.55" y1="442.00" x2="208.95" y2="442.00" stroke="#1f4183" stroke-width="0.9"/>
<line x1="205.55" y1="447.50" x2="208.95" y2="447.50" stroke="#1f4183" stroke-width="0.9"/>
<polyline points="159.00,384.00 175.25,402.25 191.25,449.75 207.25,450.00" fill="none" stroke="#55a83a" stroke-width="1.25" stroke-linejoin="round"/>
<polygon points="156.80,385.65 161.20,385.65 159.00,381.91" fill="#55a83a"/>
<polygon points="173.05,403.90 177.45,403.90 175.25,400.16" fill="#55a83a"/>
<polygon points="189.05,451.40 193.45,451.40 191.25,447.66" fill="#55a83a"/>
<polygon points="205.05,451.65 209.45,451.65 207.25,447.91" fill="#55a83a"/>
<polyline points="159.00,384.00 175.25,404.00 191.25,444.00 207.25,445.00" fill="none" stroke="#1f4183" stroke-width="1.25" stroke-linejoin="round"/>
<rect x="157.10" y="382.10" width="3.80" height="3.80" fill="#1f4183"/>
<rect x="173.35" y="402.10" width="3.80" height="3.80" fill="#1f4183"/>
<rect x="189.35" y="442.10" width="3.80" height="3.80" fill="#1f4183"/>
<rect x="205.35" y="443.10" width="3.80" height="3.80" fill="#1f4183"/>
<polyline points="159.00,383.75 175.25,402.90 191.25,452.25 207.25,453.10" fill="none" stroke="#a80a2c" stroke-width="1.25" stroke-linejoin="round"/>
<circle cx="159.00" cy="383.75" r="1.90" fill="#a80a2c"/>
<circle cx="175.25" cy="402.90" r="1.90" fill="#a80a2c"/>
<circle cx="191.25" cy="452.25" r="1.90" fill="#a80a2c"/>
<circle cx="207.25" cy="453.10" r="1.90" fill="#a80a2c"/>
<rect x="189.22" y="439.17" width="1.45" height="1.45" fill="#2a2a2a"/>
<rect x="191.78" y="439.17" width="1.45" height="1.45" fill="#2a2a2a"/>
<rect x="194.32" y="439.17" width="1.45" height="1.45" fill="#2a2a2a"/>
<rect x="202.35" y="439.52" width="1.45" height="1.45" fill="#2a2a2a"/>
<rect x="204.90" y="439.52" width="1.45" height="1.45" fill="#2a2a2a"/>
<rect x="207.45" y="439.52" width="1.45" height="1.45" fill="#2a2a2a"/>
<rect x="210.00" y="439.52" width="1.45" height="1.45" fill="#2a2a2a"/>
<rect x="191.78" y="447.02" width="1.45" height="1.45" fill="#2a2a2a"/>
<text x="281.45" y="363.15" font-size="9.5" fill="#222" text-anchor="middle" stroke="#222" stroke-width="0.1" textLength="26.9" lengthAdjust="spacingAndGlyphs">AMO1</text>
<line x1="246.60" y1="368.45" x2="246.60" y2="461.05" stroke="#000" stroke-width="1.3"/>
<line x1="246.00" y1="460.45" x2="316.15" y2="460.45" stroke="#000" stroke-width="1.3"/>
<line x1="243.60" y1="460.45" x2="246.60" y2="460.45" stroke="#000" stroke-width="1"/>
<text x="240.20" y="462.86" font-size="7" fill="#222" text-anchor="end">0</text>
<line x1="243.60" y1="422.15" x2="246.60" y2="422.15" stroke="#000" stroke-width="1"/>
<text x="240.20" y="424.56" font-size="7" fill="#222" text-anchor="end">50</text>
<line x1="243.60" y1="383.85" x2="246.60" y2="383.85" stroke="#000" stroke-width="1"/>
<text x="240.20" y="386.26" font-size="7" fill="#222" text-anchor="end">100</text>
<line x1="257.10" y1="460.45" x2="257.10" y2="463.75" stroke="#000" stroke-width="1.1"/>
<text x="257.10" y="472.76" font-size="7" fill="#222" text-anchor="middle">0</text>
<line x1="273.10" y1="460.45" x2="273.10" y2="463.75" stroke="#000" stroke-width="1.1"/>
<text x="273.10" y="472.76" font-size="7" fill="#222" text-anchor="middle">0.5</text>
<line x1="289.00" y1="460.45" x2="289.00" y2="463.75" stroke="#000" stroke-width="1.1"/>
<text x="289.00" y="472.76" font-size="7" fill="#222" text-anchor="middle">5</text>
<line x1="304.75" y1="460.45" x2="304.75" y2="463.75" stroke="#000" stroke-width="1.1"/>
<text x="304.75" y="472.76" font-size="7" fill="#222" text-anchor="middle">10</text>
<text x="281.90" y="486.45" font-size="9.5" fill="#222" text-anchor="middle" stroke="#222" stroke-width="0.1" textLength="29" lengthAdjust="spacingAndGlyphs">CFZ (nM)</text>
<line x1="257.10" y1="377.25" x2="257.10" y2="390.75" stroke="#1f4183" stroke-width="0.9"/>
<line x1="255.40" y1="377.25" x2="258.80" y2="377.25" stroke="#1f4183" stroke-width="0.9"/>
<line x1="255.40" y1="390.75" x2="258.80" y2="390.75" stroke="#1f4183" stroke-width="0.9"/>
<line x1="273.10" y1="382.60" x2="273.10" y2="388.90" stroke="#1f4183" stroke-width="0.9"/>
<line x1="271.40" y1="382.60" x2="274.80" y2="382.60" stroke="#1f4183" stroke-width="0.9"/>
<line x1="271.40" y1="388.90" x2="274.80" y2="388.90" stroke="#1f4183" stroke-width="0.9"/>
<line x1="289.00" y1="391.40" x2="289.00" y2="404.00" stroke="#55a83a" stroke-width="0.9"/>
<line x1="287.30" y1="391.40" x2="290.70" y2="391.40" stroke="#55a83a" stroke-width="0.9"/>
<line x1="287.30" y1="404.00" x2="290.70" y2="404.00" stroke="#55a83a" stroke-width="0.9"/>
<line x1="289.00" y1="406.40" x2="289.00" y2="417.00" stroke="#a80a2c" stroke-width="0.9"/>
<line x1="287.30" y1="406.40" x2="290.70" y2="406.40" stroke="#a80a2c" stroke-width="0.9"/>
<line x1="287.30" y1="417.00" x2="290.70" y2="417.00" stroke="#a80a2c" stroke-width="0.9"/>
<line x1="304.75" y1="421.40" x2="304.75" y2="427.60" stroke="#1f4183" stroke-width="0.9"/>
<line x1="303.05" y1="421.40" x2="306.45" y2="421.40" stroke="#1f4183" stroke-width="0.9"/>
<line x1="303.05" y1="427.60" x2="306.45" y2="427.60" stroke="#1f4183" stroke-width="0.9"/>
<line x1="304.75" y1="416.40" x2="304.75" y2="424.00" stroke="#55a83a" stroke-width="0.9"/>
<line x1="303.05" y1="416.40" x2="306.45" y2="416.40" stroke="#55a83a" stroke-width="0.9"/>
<line x1="303.05" y1="424.00" x2="306.45" y2="424.00" stroke="#55a83a" stroke-width="0.9"/>
<line x1="304.75" y1="431.00" x2="304.75" y2="437.00" stroke="#a80a2c" stroke-width="0.9"/>
<line x1="303.05" y1="431.00" x2="306.45" y2="431.00" stroke="#a80a2c" stroke-width="0.9"/>
<line x1="303.05" y1="437.00" x2="306.45" y2="437.00" stroke="#a80a2c" stroke-width="0.9"/>
<polyline points="257.10,384.00 273.10,385.25 289.00,398.00 304.75,421.40" fill="none" stroke="#55a83a" stroke-width="1.25" stroke-linejoin="round"/>
<polygon points="254.90,385.65 259.30,385.65 257.10,381.91" fill="#55a83a"/>
<polygon points="270.90,386.90 275.30,386.90 273.10,383.16" fill="#55a83a"/>
<polygon points="286.80,399.65 291.20,399.65 289.00,395.91" fill="#55a83a"/>
<polygon points="302.55,423.05 306.95,423.05 304.75,419.31" fill="#55a83a"/>
<polyline points="257.10,384.00 273.10,386.50 289.00,402.40 304.75,424.50" fill="none" stroke="#1f4183" stroke-width="1.25" stroke-linejoin="round"/>
<rect x="255.20" y="382.10" width="3.80" height="3.80" fill="#1f4183"/>
<rect x="271.20" y="384.60" width="3.80" height="3.80" fill="#1f4183"/>
<rect x="287.10" y="400.50" width="3.80" height="3.80" fill="#1f4183"/>
<rect x="302.85" y="422.60" width="3.80" height="3.80" fill="#1f4183"/>
<polyline points="257.10,384.10 273.10,388.00 289.00,411.40 304.75,434.40" fill="none" stroke="#a80a2c" stroke-width="1.25" stroke-linejoin="round"/>
<circle cx="257.10" cy="384.10" r="1.90" fill="#a80a2c"/>
<circle cx="273.10" cy="388.00" r="1.90" fill="#a80a2c"/>
<circle cx="289.00" cy="411.40" r="1.90" fill="#a80a2c"/>
<circle cx="304.75" cy="434.40" r="1.90" fill="#a80a2c"/>
<rect x="288.27" y="388.02" width="1.45" height="1.45" fill="#2a2a2a"/>
<rect x="304.02" y="413.02" width="1.45" height="1.45" fill="#2a2a2a"/>
<line x1="326.25" y1="401.50" x2="336.05" y2="401.50" stroke="#a80a2c" stroke-width="1.2"/>
<circle cx="331.25" cy="401.50" r="2.13" fill="#a80a2c"/>
<text x="338.75" y="403.65" font-size="6.0" fill="#222" text-anchor="start" textLength="19.4" lengthAdjust="spacingAndGlyphs">pLKO.1</text>
<line x1="326.25" y1="414.00" x2="336.05" y2="414.00" stroke="#1f4183" stroke-width="1.2"/>
<rect x="329.12" y="411.87" width="4.26" height="4.26" fill="#1f4183"/>
<text x="338.75" y="416.15" font-size="6.0" fill="#222" text-anchor="start" textLength="12.3" lengthAdjust="spacingAndGlyphs">sh#1</text>
<line x1="326.25" y1="426.75" x2="336.05" y2="426.75" stroke="#55a83a" stroke-width="1.2"/>
<polygon points="328.79,428.60 333.71,428.60 331.25,424.41" fill="#55a83a"/>
<text x="338.75" y="428.90" font-size="6.0" fill="#222" text-anchor="start" textLength="12.5" lengthAdjust="spacingAndGlyphs">sh#2</text>
<line x1="403.50" y1="174.10" x2="403.50" y2="285.35" stroke="#000" stroke-width="1.3"/>
<line x1="402.90" y1="284.75" x2="512.50" y2="284.75" stroke="#000" stroke-width="1.3"/>
<line x1="400.50" y1="284.75" x2="403.50" y2="284.75" stroke="#000" stroke-width="1"/>
<text x="396.90" y="287.26" font-size="7" fill="#222" text-anchor="end">0</text>
<line x1="400.50" y1="242.05" x2="403.50" y2="242.05" stroke="#000" stroke-width="1"/>
<text x="396.90" y="244.56" font-size="7" fill="#222" text-anchor="end">5</text>
<line x1="400.50" y1="199.35" x2="403.50" y2="199.35" stroke="#000" stroke-width="1"/>
<text x="396.90" y="201.86" font-size="7" fill="#222" text-anchor="end">10</text>
<line x1="420.00" y1="284.75" x2="420.00" y2="288.05" stroke="#000" stroke-width="1.1"/>
<text x="420.00" y="297.33" font-size="7.2" fill="#222" text-anchor="middle">H929</text>
<line x1="457.50" y1="284.75" x2="457.50" y2="288.05" stroke="#000" stroke-width="1.1"/>
<text x="457.50" y="297.33" font-size="7.2" fill="#222" text-anchor="middle">JJN3</text>
<line x1="494.60" y1="284.75" x2="494.60" y2="288.05" stroke="#000" stroke-width="1.1"/>
<text x="494.60" y="297.33" font-size="7.2" fill="#222" text-anchor="middle">AMO1</text>
<text transform="translate(383.20,229.00) rotate(-90)" font-size="9.6" fill="#222" text-anchor="middle" stroke="#222" stroke-width="0.1" textLength="54" lengthAdjust="spacingAndGlyphs">IC50 of Btz (nM)</text>
<line x1="410.00" y1="260.60" x2="410.00" y2="272.25" stroke="#c02a48" stroke-width="1"/>
<line x1="407.60" y1="260.60" x2="412.40" y2="260.60" stroke="#c02a48" stroke-width="1"/>
<line x1="407.60" y1="272.25" x2="412.40" y2="272.25" stroke="#c02a48" stroke-width="1"/>
<ellipse cx="410.00" cy="266.60" rx="2.48" ry="2.48" fill="none" stroke="#c02a48" stroke-width="1.05"/>
<line x1="420.60" y1="180.25" x2="420.60" y2="243.50" stroke="#3f62a3" stroke-width="1"/>
<line x1="418.20" y1="180.25" x2="423.00" y2="180.25" stroke="#3f62a3" stroke-width="1"/>
<line x1="418.20" y1="243.50" x2="423.00" y2="243.50" stroke="#3f62a3" stroke-width="1"/>
<rect x="417.88" y="210.28" width="5.45" height="3.95" fill="none" stroke="#3f62a3" stroke-width="1.05"/>
<rect x="418.30" y="176.35" width="1.7" height="1.7" fill="#2a2a2a"/>
<rect x="421.20" y="176.35" width="1.7" height="1.7" fill="#2a2a2a"/>
<line x1="430.60" y1="219.00" x2="430.60" y2="259.40" stroke="#5fb045" stroke-width="1"/>
<line x1="428.20" y1="219.00" x2="433.00" y2="219.00" stroke="#5fb045" stroke-width="1"/>
<line x1="428.20" y1="259.40" x2="433.00" y2="259.40" stroke="#5fb045" stroke-width="1"/>
<polygon points="427.88,240.82 433.33,240.82 430.60,237.18" fill="none" stroke="#5fb045" stroke-width="1.05" stroke-linejoin="miter"/>
<rect x="429.75" y="214.70" width="1.7" height="1.7" fill="#2a2a2a"/>
<ellipse cx="447.20" cy="271.40" rx="2.48" ry="2.48" fill="none" stroke="#c02a48" stroke-width="1.05"/>
<line x1="457.50" y1="215.00" x2="457.50" y2="242.10" stroke="#3f62a3" stroke-width="1"/>
<line x1="455.10" y1="215.00" x2="459.90" y2="215.00" stroke="#3f62a3" stroke-width="1"/>
<line x1="455.10" y1="242.10" x2="459.90" y2="242.10" stroke="#3f62a3" stroke-width="1"/>
<rect x="454.77" y="226.33" width="5.45" height="3.95" fill="none" stroke="#3f62a3" stroke-width="1.05"/>
<rect x="455.20" y="210.95" width="1.7" height="1.7" fill="#2a2a2a"/>
<rect x="458.10" y="210.95" width="1.7" height="1.7" fill="#2a2a2a"/>
<line x1="467.50" y1="201.50" x2="467.50" y2="234.40" stroke="#5fb045" stroke-width="1"/>
<line x1="465.10" y1="201.50" x2="469.90" y2="201.50" stroke="#5fb045" stroke-width="1"/>
<line x1="465.10" y1="234.40" x2="469.90" y2="234.40" stroke="#5fb045" stroke-width="1"/>
<polygon points="464.77,219.92 470.23,219.92 467.50,216.28" fill="none" stroke="#5fb045" stroke-width="1.05" stroke-linejoin="miter"/>
<rect x="465.20" y="197.20" width="1.7" height="1.7" fill="#2a2a2a"/>
<rect x="468.10" y="197.20" width="1.7" height="1.7" fill="#2a2a2a"/>
<line x1="484.50" y1="275.50" x2="484.50" y2="278.70" stroke="#c02a48" stroke-width="1"/>
<line x1="482.10" y1="275.50" x2="486.90" y2="275.50" stroke="#c02a48" stroke-width="1"/>
<line x1="482.10" y1="278.70" x2="486.90" y2="278.70" stroke="#c02a48" stroke-width="1"/>
<ellipse cx="484.50" cy="277.10" rx="2.48" ry="2.48" fill="none" stroke="#c02a48" stroke-width="1.05"/>
<line x1="494.45" y1="260.00" x2="494.45" y2="269.10" stroke="#3f62a3" stroke-width="1"/>
<line x1="492.05" y1="260.00" x2="496.85" y2="260.00" stroke="#3f62a3" stroke-width="1"/>
<line x1="492.05" y1="269.10" x2="496.85" y2="269.10" stroke="#3f62a3" stroke-width="1"/>
<rect x="491.72" y="262.62" width="5.45" height="3.95" fill="none" stroke="#3f62a3" stroke-width="1.05"/>
<rect x="493.60" y="256.75" width="1.7" height="1.7" fill="#2a2a2a"/>
<line x1="504.75" y1="258.60" x2="504.75" y2="270.20" stroke="#5fb045" stroke-width="1"/>
<line x1="502.35" y1="258.60" x2="507.15" y2="258.60" stroke="#5fb045" stroke-width="1"/>
<line x1="502.35" y1="270.20" x2="507.15" y2="270.20" stroke="#5fb045" stroke-width="1"/>
<polygon points="502.02,266.52 507.48,266.52 504.75,262.88" fill="none" stroke="#5fb045" stroke-width="1.05" stroke-linejoin="miter"/>
<rect x="503.90" y="254.65" width="1.7" height="1.7" fill="#2a2a2a"/>
<ellipse cx="486.15" cy="178.90" rx="2.58" ry="2.58" fill="none" stroke="#c02a48" stroke-width="1.05"/>
<text x="491.90" y="181.05" font-size="6.0" fill="#222" text-anchor="start" textLength="19.2" lengthAdjust="spacingAndGlyphs">pLKO.1</text>
<rect x="483.57" y="186.07" width="5.15" height="5.05" fill="none" stroke="#3f62a3" stroke-width="1.05"/>
<text x="491.90" y="190.75" font-size="6.0" fill="#222" text-anchor="start" textLength="12.2" lengthAdjust="spacingAndGlyphs">sh#1</text>
<polygon points="483.57,200.38 488.72,200.38 486.15,196.23" fill="none" stroke="#5fb045" stroke-width="1.05" stroke-linejoin="miter"/>
<text x="491.90" y="200.45" font-size="6.0" fill="#222" text-anchor="start" textLength="12.4" lengthAdjust="spacingAndGlyphs">sh#2</text>
<line x1="403.50" y1="346.60" x2="403.50" y2="461.10" stroke="#000" stroke-width="1.3"/>
<line x1="402.90" y1="460.50" x2="512.50" y2="460.50" stroke="#000" stroke-width="1.3"/>
<line x1="400.50" y1="460.50" x2="403.50" y2="460.50" stroke="#000" stroke-width="1"/>
<text x="396.90" y="463.01" font-size="7" fill="#222" text-anchor="end">0</text>
<line x1="400.50" y1="438.40" x2="403.50" y2="438.40" stroke="#000" stroke-width="1"/>
<text x="396.90" y="440.91" font-size="7" fill="#222" text-anchor="end">2</text>
<line x1="400.50" y1="416.30" x2="403.50" y2="416.30" stroke="#000" stroke-width="1"/>
<text x="396.90" y="418.81" font-size="7" fill="#222" text-anchor="end">4</text>
<line x1="400.50" y1="394.20" x2="403.50" y2="394.20" stroke="#000" stroke-width="1"/>
<text x="396.90" y="396.71" font-size="7" fill="#222" text-anchor="end">6</text>
<line x1="400.50" y1="372.10" x2="403.50" y2="372.10" stroke="#000" stroke-width="1"/>
<text x="396.90" y="374.61" font-size="7" fill="#222" text-anchor="end">8</text>
<line x1="400.50" y1="350.00" x2="403.50" y2="350.00" stroke="#000" stroke-width="1"/>
<text x="396.90" y="352.51" font-size="7" fill="#222" text-anchor="end">10</text>
<line x1="420.20" y1="460.50" x2="420.20" y2="463.80" stroke="#000" stroke-width="1.1"/>
<text x="420.20" y="473.08" font-size="7.2" fill="#222" text-anchor="middle">H929</text>
<line x1="457.60" y1="460.50" x2="457.60" y2="463.80" stroke="#000" stroke-width="1.1"/>
<text x="457.60" y="473.08" font-size="7.2" fill="#222" text-anchor="middle">JJN3</text>
<line x1="495.20" y1="460.50" x2="495.20" y2="463.80" stroke="#000" stroke-width="1.1"/>
<text x="495.20" y="473.08" font-size="7.2" fill="#222" text-anchor="middle">AMO1</text>
<text transform="translate(383.50,403.40) rotate(-90)" font-size="9.6" fill="#222" text-anchor="middle" stroke="#222" stroke-width="0.1" textLength="56.5" lengthAdjust="spacingAndGlyphs">IC50 of CFZ (nM)</text>
<line x1="409.90" y1="445.25" x2="409.90" y2="452.80" stroke="#c02a48" stroke-width="1"/>
<line x1="407.50" y1="445.25" x2="412.30" y2="445.25" stroke="#c02a48" stroke-width="1"/>
<line x1="407.50" y1="452.80" x2="412.30" y2="452.80" stroke="#c02a48" stroke-width="1"/>
<ellipse cx="409.90" cy="449.10" rx="2.73" ry="2.18" fill="none" stroke="#c02a48" stroke-width="1.05"/>
<line x1="420.50" y1="434.20" x2="420.50" y2="441.70" stroke="#3f62a3" stroke-width="1"/>
<line x1="418.10" y1="434.20" x2="422.90" y2="434.20" stroke="#3f62a3" stroke-width="1"/>
<line x1="418.10" y1="441.70" x2="422.90" y2="441.70" stroke="#3f62a3" stroke-width="1"/>
<rect x="417.77" y="435.92" width="5.45" height="3.95" fill="none" stroke="#3f62a3" stroke-width="1.05"/>
<rect x="418.20" y="430.85" width="1.7" height="1.7" fill="#2a2a2a"/>
<rect x="421.10" y="430.85" width="1.7" height="1.7" fill="#2a2a2a"/>
<line x1="430.20" y1="422.60" x2="430.20" y2="447.10" stroke="#5fb045" stroke-width="1"/>
<line x1="427.80" y1="422.60" x2="432.60" y2="422.60" stroke="#5fb045" stroke-width="1"/>
<line x1="427.80" y1="447.10" x2="432.60" y2="447.10" stroke="#5fb045" stroke-width="1"/>
<polygon points="427.47,437.43 432.93,437.43 430.20,433.78" fill="none" stroke="#5fb045" stroke-width="1.05" stroke-linejoin="miter"/>
<rect x="429.35" y="419.25" width="1.7" height="1.7" fill="#2a2a2a"/>
<line x1="447.30" y1="392.00" x2="447.30" y2="394.70" stroke="#c02a48" stroke-width="1"/>
<line x1="444.90" y1="392.00" x2="449.70" y2="392.00" stroke="#c02a48" stroke-width="1"/>
<line x1="444.90" y1="394.70" x2="449.70" y2="394.70" stroke="#c02a48" stroke-width="1"/>
<ellipse cx="447.30" cy="393.35" rx="2.73" ry="2.18" fill="none" stroke="#c02a48" stroke-width="1.05"/>
<rect x="454.97" y="366.57" width="5.45" height="3.95" fill="none" stroke="#3f62a3" stroke-width="1.05"/>
<rect x="453.95" y="362.95" width="1.7" height="1.7" fill="#2a2a2a"/>
<rect x="456.85" y="362.95" width="1.7" height="1.7" fill="#2a2a2a"/>
<rect x="459.75" y="362.95" width="1.7" height="1.7" fill="#2a2a2a"/>
<polygon points="465.07,388.22 470.53,388.22 467.80,384.57" fill="none" stroke="#5fb045" stroke-width="1.05" stroke-linejoin="miter"/>
<rect x="466.95" y="379.75" width="1.7" height="1.7" fill="#2a2a2a"/>
<line x1="484.60" y1="394.30" x2="484.60" y2="402.30" stroke="#c02a48" stroke-width="1"/>
<line x1="482.20" y1="394.30" x2="487.00" y2="394.30" stroke="#c02a48" stroke-width="1"/>
<line x1="482.20" y1="402.30" x2="487.00" y2="402.30" stroke="#c02a48" stroke-width="1"/>
<ellipse cx="484.60" cy="398.30" rx="2.73" ry="2.18" fill="none" stroke="#c02a48" stroke-width="1.05"/>
<line x1="494.60" y1="366.90" x2="494.60" y2="384.70" stroke="#3f62a3" stroke-width="1"/>
<line x1="492.20" y1="366.90" x2="497.00" y2="366.90" stroke="#3f62a3" stroke-width="1"/>
<line x1="492.20" y1="384.70" x2="497.00" y2="384.70" stroke="#3f62a3" stroke-width="1"/>
<rect x="491.88" y="373.67" width="5.45" height="3.95" fill="none" stroke="#3f62a3" stroke-width="1.05"/>
<rect x="493.75" y="363.35" width="1.7" height="1.7" fill="#2a2a2a"/>
<line x1="505.20" y1="371.10" x2="505.20" y2="376.15" stroke="#5fb045" stroke-width="1"/>
<line x1="502.80" y1="371.10" x2="507.60" y2="371.10" stroke="#5fb045" stroke-width="1"/>
<line x1="502.80" y1="376.15" x2="507.60" y2="376.15" stroke="#5fb045" stroke-width="1"/>
<polygon points="502.47,375.72 507.93,375.72 505.20,372.07" fill="none" stroke="#5fb045" stroke-width="1.05" stroke-linejoin="miter"/>
<rect x="504.35" y="368.05" width="1.7" height="1.7" fill="#2a2a2a"/>
<ellipse cx="478.80" cy="425.00" rx="2.58" ry="2.58" fill="none" stroke="#c02a48" stroke-width="1.05"/>
<text x="484.60" y="427.15" font-size="6.0" fill="#222" text-anchor="start" textLength="19.2" lengthAdjust="spacingAndGlyphs">pLKO.1</text>
<rect x="476.23" y="431.98" width="5.15" height="5.05" fill="none" stroke="#3f62a3" stroke-width="1.05"/>
<text x="484.60" y="436.65" font-size="6.0" fill="#222" text-anchor="start" textLength="12.2" lengthAdjust="spacingAndGlyphs">sh#1</text>
<polygon points="476.23,446.32 481.38,446.32 478.80,442.18" fill="none" stroke="#5fb045" stroke-width="1.05" stroke-linejoin="miter"/>
<text x="484.60" y="446.40" font-size="6.0" fill="#222" text-anchor="start" textLength="12.4" lengthAdjust="spacingAndGlyphs">sh#2</text>
<rect x="0" y="0" width="520" height="1.1" fill="#000"/>
<rect x="0" y="0" width="1.1" height="496" fill="#000"/>
<rect x="518.55" y="0" width="1.45" height="496" fill="#000"/>
<rect x="0" y="494.45" width="520" height="1.55" fill="#000"/>
</svg>
</body></html>
